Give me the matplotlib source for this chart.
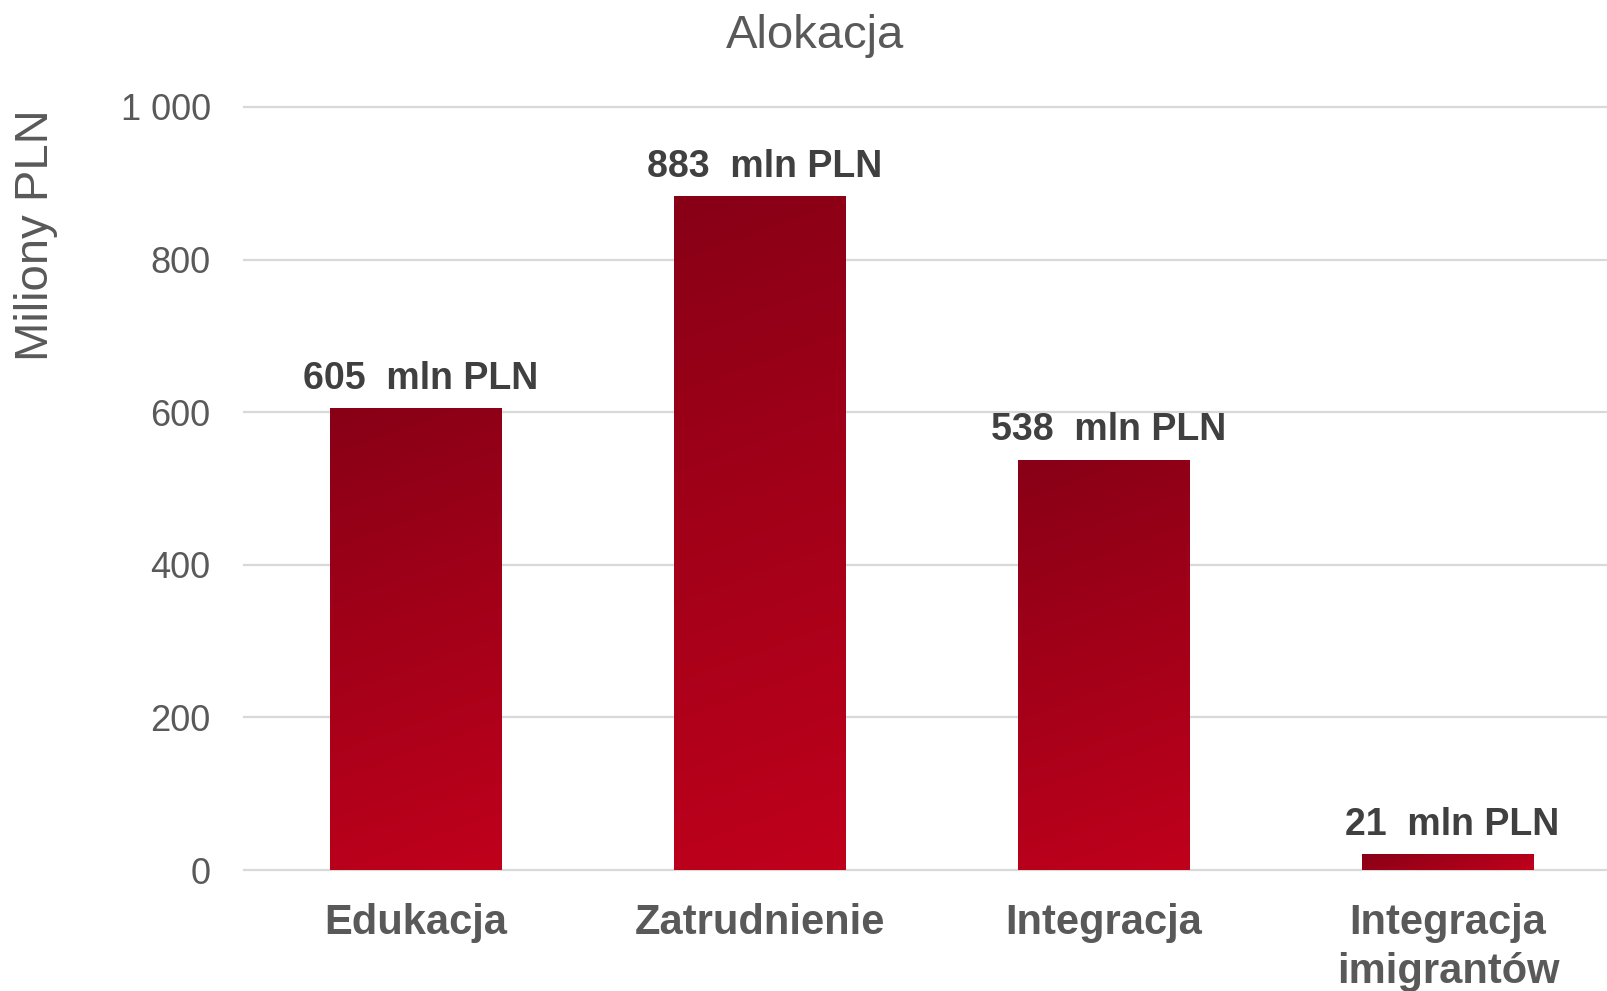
import numpy as np
import matplotlib
matplotlib.use("Agg")
import matplotlib.pyplot as plt
from matplotlib.colors import LinearSegmentedColormap

categories = ["Edukacja", "Zatrudnienie", "Integracja", "Integracja\nimigrantów"]
values = [605, 883, 538, 21]
label_suffix = "  mln PLN"
yticks = [0, 200, 400, 600, 800, 1000]
ytick_labels = ["0", "200", "400", "600", "800", "1 000"]
title = "Alokacja"
ylabel = "Miliony PLN"

plt.rcParams['font.family'] = ['Liberation Sans', 'DejaVu Sans']

W, H = 1608, 991
fig = plt.figure(figsize=(W / 100, H / 100), dpi=100)
ax = fig.add_axes([244 / W, 1 - 870 / H, (1620 - 244) / W, (870 - 107) / H])

x = np.arange(len(categories))
ax.set_xlim(-0.5, len(categories) - 0.5)
ax.set_ylim(0, 1000)

bars = ax.bar(x, values, width=0.5, facecolor='none', edgecolor='none', zorder=3)

cmap = LinearSegmentedColormap.from_list("g", ["#880016", "#c0001c"])
theta = np.deg2rad(20)
for b in bars:
    x0, y0 = b.get_x(), b.get_y()
    w, h = b.get_width(), b.get_height()
    p0 = ax.transData.transform((x0, y0))
    p1 = ax.transData.transform((x0 + w, y0 + h))
    wpx, hpx = abs(p1[0] - p0[0]), abs(p1[1] - p0[1])
    nx, ny = max(int(wpx), 2), max(int(hpx), 2)
    xx = np.linspace(0, wpx, nx)[None, :]
    yy = np.linspace(0, hpx, ny)[:, None]
    t = (xx * np.sin(theta) + yy * np.cos(theta)) / (wpx * np.sin(theta) + hpx * np.cos(theta))
    im = ax.imshow(t, cmap=cmap, vmin=0, vmax=1, extent=[x0, x0 + w, y0, y0 + h],
                   origin='upper', aspect='auto', zorder=3, interpolation='bilinear')
    im.set_clip_path(b)

for xi, v in zip(x, values):
    ax.annotate(f"{v}{label_suffix}", (xi, v), xytext=(3, 21), textcoords='offset points',
                ha='center', va='center', fontsize=27, fontweight='bold', color='#404040', zorder=4)

ax.set_yticks(yticks)
ax.set_yticklabels(ytick_labels, fontsize=26, color='#595959')
ax.set_xticks(x)
ax.set_xticklabels(categories, fontsize=30, fontweight='bold', color='#595959', linespacing=1.27,
                   va='top')
ax.tick_params(axis='y', length=0, pad=24)
ax.tick_params(axis='x', length=0, pad=24)
for s in ax.spines.values():
    s.set_visible(False)
ax.yaxis.grid(True, color='#d9d9d9', linewidth=1.6, zorder=0)
ax.set_axisbelow(True)
for gl in ax.get_ygridlines():
    gl.set_clip_on(False)

fig.text(36 / W, 1 - 235 / H, ylabel, rotation=90, ha='center', va='center', fontsize=34, color='#595959')
fig.text(815 / W, 1 - 36 / H, title, ha='center', va='center', fontsize=34, color='#595959')

fig.savefig("out.png", dpi=100)
